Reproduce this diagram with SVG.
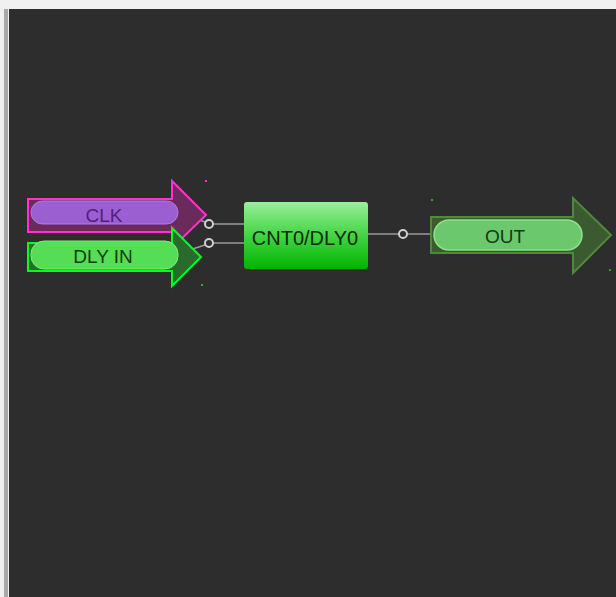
<svg xmlns="http://www.w3.org/2000/svg" width="616" height="597" viewBox="0 0 616 597">
<defs>
<linearGradient id="boxg" x1="0" y1="0" x2="0" y2="1">
<stop offset="0" stop-color="#99f099"/>
<stop offset="0.5" stop-color="#44d444"/>
<stop offset="1" stop-color="#00b400"/>
</linearGradient>
<style>
.lbl{font-family:"Liberation Sans",Arial,sans-serif;font-size:19px;text-anchor:middle}
.wire{stroke:#9a9a9a;stroke-width:1.5;fill:none}
.pin{fill:#2d2d2d;stroke:#d0d0d0;stroke-width:2}
</style>
</defs>
<rect x="0" y="0" width="616" height="597" fill="#f0f0f0"/>
<rect x="4" y="9" width="4" height="588" fill="#a8a8a8"/>
<rect x="9" y="9" width="607" height="588" fill="#2d2d2d"/>
<g id="connectors">
<path class="wire" d="M178 212 L205 222"/>
<path class="wire" d="M180 253 L205 245"/>
<path class="wire" d="M213 224 H245"/>
<path class="wire" d="M213 243 H245"/>
<path class="wire" d="M368 234 H399"/>
<path class="wire" d="M407 234 H432"/>
<circle class="pin" cx="209" cy="224" r="4"/>
<circle class="pin" cx="209" cy="243" r="4"/>
<circle class="pin" cx="403" cy="234" r="4"/>
</g>
<g id="clk">
<path d="M28 199 H172 V181 L206 215 L172 248 V232 H28 Z" fill="#6a2a5c" stroke="#ff33cc" stroke-width="2"/>
<rect x="31" y="201" width="147" height="23" rx="11.5" fill="#9b5fd2" stroke="#b07ae0" stroke-width="1"/>
<text class="lbl" x="104" y="222" fill="#55207a">CLK</text>
<rect x="205" y="180" width="2" height="2" fill="#ff33cc"/>
</g>
<g id="dlyin">
<path d="M28 243 H172 V228 L201 257 L172 286 V271 H28 Z" fill="#2a6a2a" stroke="#00ff22" stroke-width="2"/>
<rect x="31" y="241" width="147" height="28" rx="13" fill="#55dd55" stroke="#77ee77" stroke-width="1"/>
<text class="lbl" x="103" y="263" fill="#0c3d0c">DLY IN</text>
<rect x="201" y="284" width="2" height="2" fill="#00cc00"/>
</g>
<g id="cnt0">
<rect x="244" y="202" width="124" height="67" rx="3" fill="url(#boxg)"/>
<text class="lbl" x="305" y="245" fill="#0a2a0a" style="font-size:20px">CNT0/DLY0</text>
</g>
<g id="out">
<path d="M431 217 H573 V198 L611 235 L573 273 V253 H431 Z" fill="#3b5a30" stroke="#4d8a3a" stroke-width="2"/>
<rect x="434" y="220" width="148" height="30" rx="15" fill="#6cc86c" stroke="#8ee08e" stroke-width="1.5"/>
<text class="lbl" x="505" y="243" fill="#183818">OUT</text>
<rect x="431" y="199" width="2" height="2" fill="#33aa22"/>
<rect x="609" y="269" width="2" height="2" fill="#33aa22"/>
</g>
</svg>
